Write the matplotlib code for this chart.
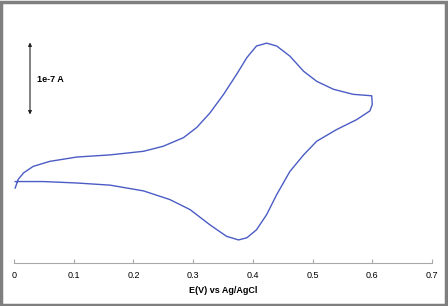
import numpy as np
import matplotlib.pyplot as plt
from matplotlib.patches import Rectangle

# potential (V vs Ag/AgCl) and current (nA), forward then reverse scan
e_fwd = [0.002, 0.007, 0.016, 0.032, 0.060, 0.105, 0.161, 0.217, 0.250, 0.284,
         0.306, 0.328, 0.351, 0.373, 0.390, 0.406, 0.423, 0.440, 0.462, 0.485,
         0.507, 0.535, 0.568, 0.599]
i_fwd = [104, 116, 125, 134, 141, 147, 150, 155, 162, 174,
         188, 208, 234, 262, 285, 301, 305, 301, 287, 266,
         252, 241, 234, 232]
e_rev = [0.600, 0.596, 0.574, 0.540, 0.507, 0.485, 0.462, 0.440, 0.423, 0.406,
         0.390, 0.376, 0.356, 0.328, 0.295, 0.261, 0.217, 0.161, 0.105, 0.049,
         0.002]
i_rev = [220, 211, 199, 185, 169, 150, 127, 95, 67, 46,
         35, 32, 37, 53, 74, 88, 100, 108, 111, 113,
         113]

xticks = [0, 0.1, 0.2, 0.3, 0.4, 0.5, 0.6, 0.7]

plt.rcParams['font.family'] = ['Liberation Sans', 'DejaVu Sans']

fig = plt.figure(figsize=(4.48, 3.06), dpi=100)
ax = fig.add_axes([14/448, 43/306, 418/448, 253/306])

e = e_fwd + e_rev
i = i_fwd + i_rev
ax.plot(e, i, color='#4b5cc4', lw=1.0, solid_joinstyle='round')

ax.set_xlim(0, 0.7)
ax.set_ylim(0, 351)
ax.set_xticks(xticks)
ax.set_xticklabels([f'{t:g}' for t in xticks], fontsize=6.5)
ax.set_yticks([])
for s in ['top', 'right', 'left']:
    ax.spines[s].set_visible(False)
ax.spines['bottom'].set_color('#a8a8a8')
ax.tick_params(axis='x', direction='in', length=3, color='#a8a8a8', pad=6)
ax.set_xlabel('E(V) vs Ag/AgCl', fontsize=6.5, fontweight='bold', labelpad=4)

# scale bar 1e-7 A = 100 nA
ax.annotate('', xy=(0.0268, 306), xytext=(0.0268, 206),
            arrowprops=dict(arrowstyle='<|-|>', color='#222222', lw=0.8,
                            mutation_scale=5, shrinkA=0, shrinkB=0))
ax.text(0.039, 254, '1e-7 A', fontsize=6.5, fontweight='bold', va='center', ha='left')

fig.patches.append(Rectangle((0.002, 0.004), 0.994, 0.991, transform=fig.transFigure,
                             fill=False, edgecolor='#7f7f7f', lw=2.5))

fig.savefig('out.png', dpi=100)
